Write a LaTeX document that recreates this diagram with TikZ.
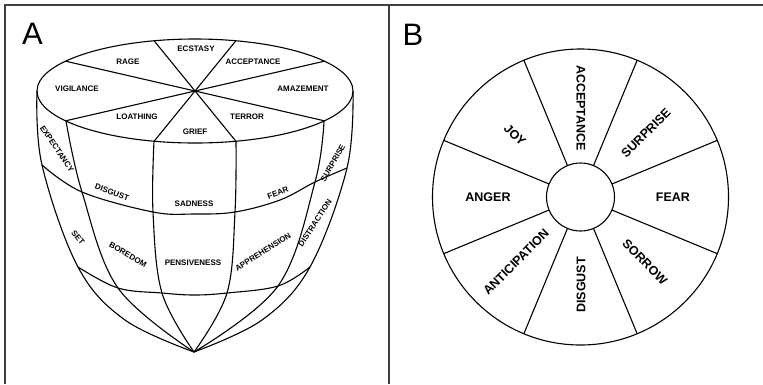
\documentclass[tikz,border=0pt]{standalone}
\usepackage{fontspec}
\setmainfont{Liberation Sans}
\usetikzlibrary{calc}

\begin{document}
\begin{tikzpicture}[x=1pt, y=-1pt,
      edge/.style={line width=1.1pt, line join=round},
      frame/.style={line width=1.4pt, draw=black!75},
      tag/.style={font=\fontsize{31}{31}\selectfont, inner sep=0pt},
      word/.style={font=\bfseries\fontsize{8}{8}\selectfont, inner sep=0pt},
      petal/.style={font=\bfseries\fontsize{12.5}{13}\selectfont, inner sep=0pt}
    ]
    \useasboundingbox (0,0) rectangle (763,384);
    % frame
    \draw[frame] (5,384) -- (5,5) -- (763,5);
    \draw[frame] (389,5) -- (389,384);
    \node[tag] (tagA) at (32.5,34) {A};
    \node[tag] (tagB) at (413,35) {B};

    % A: solid
    \coordinate (hub) at (195,91);
    \draw[edge] (hub) ellipse [x radius=158, y radius=52];
    \foreach \t in {35,75,105,145,215,255,285,325}
      \draw[edge] (hub) -- ++(\t:158 and 52);
    \draw[edge] plot[smooth, tension=0.6] coordinates {(37,91) (42,165) (78,267) (125,320) (194,352)};
    \draw[edge] plot[smooth, tension=0.6] coordinates {(66,121) (82,192) (118,288) (194,352)};
    \draw[edge] plot[smooth, tension=0.6] coordinates {(154,141) (153,212) (162,293) (194,352)};
    \draw[edge] plot[smooth, tension=0.6] coordinates {(236,141) (235,212) (227,293) (194,352)};
    \draw[edge] plot[smooth, tension=0.6] coordinates {(324,121) (315,182) (278,286) (194,352)};
    \draw[edge] plot[smooth, tension=0.6] coordinates {(353,91) (347,168) (310,267) (262,320) (194,352)};
    \draw[edge] plot[smooth, tension=0.6] coordinates {(42,165) (82,192) (153,212) (194,214) (235,212) (280,200) (315,182) (347,168)};
    \draw[edge] plot[smooth, tension=0.6] coordinates {(78,267) (118,288) (162,293) (194,295) (227,293) (278,286) (310,267)};

    \node[word] (ecstasy) at (196,49) {ECSTASY};
    \node[word] (rage) at (128,62) {RAGE};
    \node[word] (acceptA) at (253,62) {ACCEPTANCE};
    \node[word] (vigil) at (77,89) {VIGILANCE};
    \node[word] (amaze) at (303,89) {AMAZEMENT};
    \node[word] (loath) at (137,117) {LOATHING};
    \node[word] (terror) at (247,117) {TERROR};
    \node[word] (grief) at (195,132) {GRIEF};
    \node[word, rotate=-56] (expect) at (57,149) {EXPECTANCY};
    \node[word, rotate=-20] (disgustA) at (112,192) {DISGUST};
    \node[word] (sad) at (194,204) {SADNESS};
    \node[word, rotate=20] (fearA) at (278,193) {FEAR};
    \node[word, rotate=60] (surpA) at (333,163) {SURPRISE};
    \node[word, rotate=-50] (set) at (78,238) {SET};
    \node[word, rotate=-30] (bored) at (128,255) {BOREDOM};
    \node[word] (pensive) at (193,263) {PENSIVENESS};
    \node[word, rotate=32] (appre) at (263,252) {APPREHENSION};
    \node[word, rotate=57] (distract) at (315,223) {DISTRACTION};

    % B: wheel
    \coordinate (wc) at (580.5,197);
    \draw[edge] (wc) circle [radius=148];
    \draw[edge] (wc) circle [radius=34];
    \foreach \a in {22.5,67.5,...,337.5}
      \draw[edge] (wc) ++(\a:34) -- ++(\a:114);

    \node[petal] (fearB) at (673,197) {FEAR};
    \node[petal, rotate=45] (surpB) at (646,133) {SURPRISE};
    \node[petal, rotate=-90] (acceptB) at (581,108) {ACCEPTANCE};
    \node[petal, rotate=-45] (joy) at (515,135) {JOY};
    \node[petal] (anger) at (488,197) {ANGER};
    \node[petal, rotate=45] (antic) at (516,262) {ANTICIPATION};
    \node[petal, rotate=90] (disgustB) at (581,285) {DISGUST};
    \node[petal, rotate=-45] (sorrow) at (645,262) {SORROW};
  \end{tikzpicture}
\end{document}
